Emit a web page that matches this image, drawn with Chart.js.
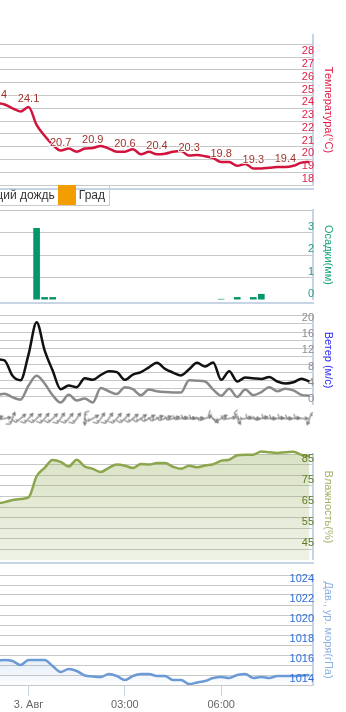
<!DOCTYPE html>
<html>
<head>
<meta charset="utf-8">
<script src="https://cdn.jsdelivr.net/npm/chart.js@4.4.1/dist/chart.umd.min.js"></script>
<style>
body { margin: 0; width: 346px; height: 712px; overflow: hidden; background: #fff; position: relative; }
canvas { position: absolute; left: 0; }
.sep { position: absolute; left: 0; width: 314px; height: 2px; background: #c6d4e6; }
#legend { position: absolute; right: 236px; top: 185px; height: 20px; border: 1px solid #ccc; border-top: none;
  display: flex; align-items: center; white-space: nowrap; font: 12px "Liberation Sans", Arial, sans-serif; color: #333; z-index: 5; padding-right: 1px; }
#legend .sym { width: 18px; height: 20px; }
#legend .txt { margin: 0 3px; }
</style>
</head>
<body>
<canvas id="temp" width="346" height="186" style="top:0"></canvas>
<div class="sep" style="top:188px"></div>
<div id="legend"><span class="sym" style="background:#03976b"></span><span class="txt">Дождь</span><span class="sym" style="background:#5fb89a"></span><span class="txt">Моросящий дождь</span><span class="sym" style="background:#f29d00"></span><span class="txt">Град</span></div>
<canvas id="precip" width="346" height="100" style="top:200px"></canvas>
<div class="sep" style="top:302px"></div>
<canvas id="wind" width="346" height="95" style="top:310px"></canvas>
<canvas id="barbs" width="346" height="27" style="top:405px"></canvas>
<canvas id="hum" width="346" height="115" style="top:445px"></canvas>
<div class="sep" style="top:562px"></div>
<canvas id="press" width="346" height="147" style="top:565px"></canvas>
<script>
const FONT = '"Liberation Sans", Arial, sans-serif';

// 15-minute steps, 2 Aug 23:00 .. 3 Aug 08:45
const times = ['23:00','23:15','23:30','23:45','00:00','00:15','00:30','00:45','01:00','01:15',
  '01:30','01:45','02:00','02:15','02:30','02:45','03:00','03:15','03:30','03:45',
  '04:00','04:15','04:30','04:45','05:00','05:15','05:30','05:45','06:00','06:15',
  '06:30','06:45','07:00','07:15','07:30','07:45','08:00','08:15','08:30','08:45'];

const temperature = [24.4, 24.3, 24.0, 23.75, 24.1, 22.7, 21.85, 21.15, 20.7, 20.85,
  20.6, 20.85, 20.9, 21.05, 20.85, 20.6, 20.6, 20.8, 20.4, 20.6,
  20.4, 20.45, 20.6, 20.65, 20.3, 20.35, 20.25, 20.1, 19.8, 19.8,
  19.5, 19.65, 19.3, 19.3, 19.35, 19.4, 19.4, 19.5, 19.75, 19.8];

const precipitation = [0, 0, 0, 0, 0, 3.2, 0.13, 0.13, 0, 0,
  0, 0, 0, 0, 0, 0, 0, 0, 0, 0,
  0, 0, 0, 0, 0, 0, 0, 0, 0.05, 0,
  0.13, 0, 0.13, 0.27, 0, 0, 0, 0, 0, 0];

const windGust = [11.3, 11.0, 7.2, 6.1, 12.5, 20.4, 13.5, 8.5, 3.9, 4.8,
  4.4, 6.6, 6.2, 7.4, 8.3, 8.1, 6.2, 7.5, 8.1, 9.3,
  10.4, 8.9, 8.0, 7.3, 8.8, 10.4, 9.5, 10.5, 6.2, 8.3,
  5.8, 6.8, 6.6, 6.4, 6.9, 5.8, 5.3, 5.6, 6.5, 5.8];

const windSpeed = [2.4, 2.8, 1.9, 1.3, 4.8, 7.2, 5.3, 2.4, 0.6, 2.5,
  1.1, 1.6, 0.6, 4.2, 3.4, 2.7, 4.4, 3.9, 2.4, 3.8,
  3.4, 3.2, 3.1, 3.1, 6.1, 6.0, 5.8, 3.8, 2.3, 4.0,
  2.0, 3.8, 2.4, 3.2, 4.4, 3.4, 4.0, 3.6, 2.5, 2.3];

const windDir = [250, 260, 200, 230, 220, 225, 220, 225, 215, 220,
  215, 0, 240, 215, 215, 220, 225, 230, 235, 240,
  245, 250, 255, 260, 265, 265, 250, 310, 240, 260,
  330, 260, 270, 255, 270, 265, 270, 265, 270, 20];

const humidity = [66.5, 67.3, 68.3, 68.8, 69.5, 79.5, 83.5, 87.2, 86.3, 84.1,
  87.3, 84.1, 83.0, 81.5, 83.5, 85.0, 84.5, 83.4, 85.3, 85.0,
  85.7, 85.7, 84.0, 83.0, 84.5, 83.7, 84.6, 85.2, 86.8, 87.3,
  89.4, 89.7, 89.7, 91.2, 90.8, 90.5, 90.8, 91.1, 89.6, 88.9];

const pressure = [1016.45, 1016.5, 1016.4, 1016.0, 1016.5, 1016.5, 1016.5, 1015.9, 1015.3, 1015.6,
  1015.4, 1014.95, 1014.85, 1014.8, 1015.1, 1014.9, 1014.5, 1014.9, 1015.1, 1015.1,
  1014.9, 1014.9, 1014.5, 1014.5, 1014.1, 1014.25, 1014.4, 1014.7, 1014.8, 1014.7,
  1015.0, 1015.1, 1014.7, 1014.8, 1014.7, 1014.9, 1014.9, 1014.9, 1014.95, 1015.0];

const tickHours = [0, 3, 6];
const tickText = ['3. Авг', '03:00', '06:00'];

const hours = times.map(t => {
  const [h, m] = t.split(':').map(Number);
  return (h > 12 ? h - 24 : h) + m / 60;
});
const xMin = -0.89, xMax = 8.86;
const pts = arr => hours.map((h, i) => ({x: h, y: arr[i]}));

const xHidden = () => ({type: 'linear', min: xMin, max: xMax, display: false, offset: false,
    grid: {offset: false}, bounds: 'data'});

function yAxis(o) {
    return {
        position: 'right', min: o.min, max: o.max,
        afterBuildTicks: s => { s.ticks = o.grid.map(v => ({value: v})); },
        afterFit: s => { s.width = 33; s.paddingTop = 0; s.paddingBottom = 0; },
        grid: {color: '#c8c8c8', lineWidth: 1, drawTicks: false, z: -1},
        border: {color: '#c6d4e6', width: 2},
        ticks: {
            mirror: true, padding: 1, labelOffset: -6, color: o.color, autoSkip: false, z: 1,
            font: {size: 11, family: FONT},
            callback: v => o.labels.includes(v) ? String(v) : ''
        },
        title: {display: true, text: o.title, color: o.titleColor,
            font: {size: 11, family: FONT}, padding: {top: 11, bottom: 0}}
    };
}

function baseOptions(pad, y, x) {
    return {
        responsive: false, animation: false, events: [],
        layout: {padding: pad, autoPadding: false},
        plugins: {legend: {display: false}, tooltip: {enabled: false}},
        scales: {x: x || xHidden(), y: y}
    };
}

const range = (a, b, s) => { const r = []; for (let v = a; v <= b + 1e-9; v += s) r.push(+v.toFixed(2)); return r; };

// temperature labels on the full hours
const hourLabels = {
    id: 'hourLabels',
    afterDatasetsDraw(chart) {
        const meta = chart.getDatasetMeta(0);
        const ctx = chart.ctx;
        ctx.save();
        ctx.font = '11px ' + FONT;
        ctx.textAlign = 'center';
        ctx.textBaseline = 'middle';
        ctx.lineWidth = 2;
        ctx.strokeStyle = 'rgba(255,255,255,0.85)';
        ctx.fillStyle = '#a0322a';
        times.forEach((t, i) => {
            if (!t.endsWith(':00')) return;
            const p = meta.data[i];
            const s = temperature[i].toFixed(1);
            ctx.strokeText(s, p.x, p.y - 8);
            ctx.fillText(s, p.x, p.y - 8);
        });
        ctx.restore();
    }
};

new Chart(document.getElementById('temp'), {
    type: 'line',
    data: {datasets: [{data: pts(temperature), borderColor: '#d2143c', borderWidth: 2.5,
        pointRadius: 0, cubicInterpolationMode: 'monotone'}]},
    options: baseOptions({top: 35, bottom: 1, left: 0, right: 0}, yAxis({
        min: 18, max: 29.73, grid: range(18, 29, 1), labels: range(18, 28, 1),
        color: '#e0204a', title: 'Температура(°C)', titleColor: '#e0204a'})),
    plugins: [hourLabels]
});

new Chart(document.getElementById('precip'), {
    type: 'bar',
    data: {datasets: [{data: pts(precipitation), backgroundColor: '#03976b',
        barPercentage: 0.83, categoryPercentage: 1, grouped: false}]},
    options: baseOptions({top: 10, bottom: 0, left: 0, right: 0}, yAxis({
        min: 0, max: 4, grid: [0, 1, 2, 3, 4], labels: [0, 1, 2, 3],
        color: '#27a27a', title: 'Осадки(мм)', titleColor: '#19a27c'}))
});

new Chart(document.getElementById('wind'), {
    type: 'line',
    data: {datasets: [
        {data: pts(windGust), borderColor: '#111', borderWidth: 2.5, pointRadius: 0, cubicInterpolationMode: 'monotone'},
        {data: pts(windSpeed), borderColor: '#8a8a8a', borderWidth: 2.5, pointRadius: 0, cubicInterpolationMode: 'monotone'}
    ]},
    options: baseOptions({top: 5, bottom: 0, left: 0, right: 0}, yAxis({
        min: 0, max: 22.2, grid: range(0, 22, 2), labels: [0, 4, 8, 12, 16, 20],
        color: '#8c8c8c', title: 'Ветер (м/с)', titleColor: '#2d2df0'}))
});

// wind barb glyph: barbs at the top, arrow head at the bottom
const barb = document.createElement('canvas');
barb.width = 18; barb.height = 18;
(function () {
    const g = barb.getContext('2d');
    g.strokeStyle = '#7d7d7d';
    g.lineWidth = 1.2;
    g.beginPath();
    g.moveTo(9, 3); g.lineTo(9, 15);
    g.moveTo(7.3, 12.5); g.lineTo(9, 15.5); g.lineTo(10.7, 12.5);
    g.moveTo(9, 3); g.lineTo(13.5, 1.5);
    g.moveTo(9, 5.5); g.lineTo(11.5, 4.7);
    g.stroke();
})();

new Chart(document.getElementById('barbs'), {
    type: 'scatter',
    data: {datasets: [{data: hours.map(h => ({x: h, y: 0})), pointStyle: barb, pointRotation: windDir}]},
    options: baseOptions({top: 0, bottom: 0, left: 0, right: 33}, {min: -1, max: 1, display: false})
});

new Chart(document.getElementById('hum'), {
    type: 'line',
    data: {datasets: [{data: pts(humidity), borderColor: '#8ba64c', borderWidth: 2.5, pointRadius: 0,
        cubicInterpolationMode: 'monotone', fill: 'start', clip: {left: 0, top: 6, right: 0, bottom: 0},
        backgroundColor: c => {
            const a = c.chart.chartArea;
            if (!a) return 'rgba(139,166,76,0.25)';
            const gr = c.chart.ctx.createLinearGradient(0, a.top, 0, a.bottom);
            gr.addColorStop(0, 'rgba(139,166,76,0.32)');
            gr.addColorStop(1, 'rgba(139,166,76,0.14)');
            return gr;
        }}]},
    options: baseOptions({top: 9, bottom: 0, left: 0, right: 0}, yAxis({
        min: 40, max: 90, grid: range(40, 90, 5), labels: [45, 55, 65, 75, 85],
        color: '#5f7a22', title: 'Влажность(%)', titleColor: '#a3b36a'}))
});

new Chart(document.getElementById('press'), {
    type: 'line',
    data: {datasets: [{data: pts(pressure), borderColor: '#6a9bd6', borderWidth: 2.5, pointRadius: 0,
        cubicInterpolationMode: 'monotone', fill: 'start',
        backgroundColor: c => {
            const a = c.chart.chartArea;
            if (!a) return 'rgba(0,0,0,0)';
            const gr = c.chart.ctx.createLinearGradient(0, a.top + a.height * 0.7, 0, a.bottom);
            gr.addColorStop(0, 'rgba(110,155,212,0.22)');
            gr.addColorStop(1, 'rgba(110,155,212,0.02)');
            return gr;
        }}]},
    options: baseOptions({top: 10, bottom: 0, left: 0, right: 0}, yAxis({
        min: 1014, max: 1025, grid: range(1014, 1025, 1), labels: [1014, 1016, 1018, 1020, 1022, 1024],
        color: '#2f6cd8', title: 'Дав., ур. моря(гПа)', titleColor: '#8db0e0'}), {
        type: 'linear', min: xMin, max: xMax, position: 'bottom',
        afterBuildTicks: s => { s.ticks = tickHours.map(v => ({value: v})); },
        afterFit: s => { s.height = 27; s.paddingLeft = 0; s.paddingRight = 0; },
        grid: {drawOnChartArea: false, drawTicks: true, tickLength: 11, color: '#c6d4e6', lineWidth: 1},
        border: {display: false},
        ticks: {color: '#666', font: {size: 11, family: FONT}, padding: 2, maxRotation: 0, autoSkip: false,
            callback: v => tickText[tickHours.indexOf(v)]}
    })
});
</script>
</body>
</html>
